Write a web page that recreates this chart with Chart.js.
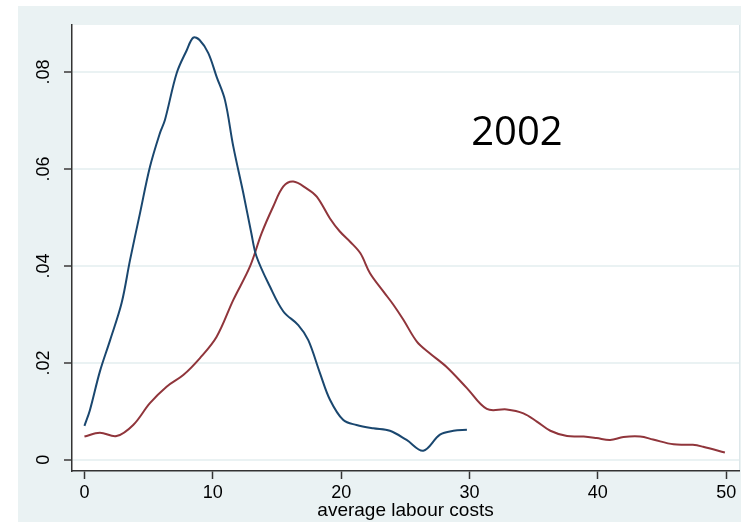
<!DOCTYPE html>
<html>
<head>
<meta charset="utf-8">
<script src="https://cdn.jsdelivr.net/npm/chart.js@4"></script>
<style>
  html, body { margin: 0; padding: 0; background: #fff; }
  #wrap { width: 741px; height: 522px; }
</style>
</head>
<body>
<div id="wrap"><canvas id="kdChart" width="741" height="522"></canvas></div>
<script>
// kernel density of average labour costs, 2002
const blueX = [0, 0.43, 1.2, 2.0, 2.9, 3.55, 4.33, 5.1, 5.88, 6.27, 7.19, 7.97, 8.48, 8.97, 9.65, 10.3, 10.95, 11.6, 12.38, 13.0, 13.4, 14.46, 15.5, 16.66, 17.44, 18.35, 19.13, 20.17, 21.2, 22.5, 23.8, 25.1, 26.4, 27.7, 28.75, 29.8];
const blueY = [.0070, .0103, .0182, .0247, .0324, .0412, .0509, .0604, .0674, .0701, .0798, .0845, .0871, .0866, .0839, .0790, .0742, .0646, .0550, .0468, .0420, .0357, .0306, .0278, .0247, .0179, .0124, .0082, .0072, .0065, .0060, .0041, .0019, .0052, .0060, .0062];

const redX = [0, 1.2, 2.5, 3.8, 5.1, 6.4, 7.7, 9.0, 10.3, 11.6, 12.9, 13.8, 14.7, 15.5, 16.27, 17.3, 18.1, 19.13, 19.9, 20.7, 21.5, 22.25, 23.3, 24.07, 24.85, 25.9, 26.9, 28.2, 29.8, 31.35, 32.9, 34.2, 35.25, 36.3, 37.6, 38.9, 39.9, 40.96, 42.0, 43.3, 44.3, 45.9, 47.4, 48.2, 49.9];
const redY = [.0048, .0056, .0049, .0072, .0117, .0151, .0175, .0210, .0254, .0330, .0399, .0467, .0522, .0564, .0574, .0560, .0543, .0498, .0471, .0450, .0426, .0385, .0347, .0320, .0289, .0244, .0220, .0192, .0148, .0105, .0104, .0096, .0079, .0060, .0049, .0048, .0045, .0041, .0047, .0048, .0042, .0032, .0031, .0027, .0015];

const xTicks = [0, 10, 20, 30, 40, 50];
const yTicks = [0, 0.02, 0.04, 0.06, 0.08];
const yTickLabels = ["0", ".02", ".04", ".06", ".08"];
const yearLabel = "2002";
const xTitle = "average labour costs";

const toPoints = (xs, ys) => xs.map((x, i) => ({ x: x, y: ys[i] }));

Chart.defaults.font.family = "'Liberation Sans', Arial, sans-serif";

const stataBg = {
  id: "stataBg",
  beforeDraw(chart) {
    const { ctx, chartArea: a } = chart;
    ctx.save();
    ctx.fillStyle = "#ffffff";
    ctx.fillRect(0, 0, chart.width, chart.height);
    ctx.fillStyle = "#eaf2f3";
    ctx.fillRect(18, 6, chart.width - 18, chart.height - 6);
    ctx.fillStyle = "#ffffff";
    ctx.fillRect(a.left, a.top, a.right - a.left, a.bottom - a.top);
    ctx.strokeStyle = "#dde7ea";
    ctx.lineWidth = 1;
    ctx.beginPath();
    ctx.moveTo(a.right + 0.5, a.top);
    ctx.lineTo(a.right + 0.5, a.bottom);
    ctx.stroke();
    ctx.restore();
  },
  afterDraw(chart) {
    const { ctx } = chart;
    const xs = chart.scales.x, ys = chart.scales.y;
    ctx.save();
    ctx.fillStyle = "#000";
    // rotated y tick labels
    ctx.font = "18px 'Liberation Sans', Arial, sans-serif";
    ctx.textAlign = "center";
    ctx.textBaseline = "middle";
    yTicks.forEach((v, i) => {
      ctx.save();
      ctx.translate(ys.right - 28, ys.getPixelForValue(v));
      ctx.rotate(-Math.PI / 2);
      ctx.fillText(yTickLabels[i], 0, 0);
      ctx.restore();
    });
    ctx.font = "40px 'Open Sans', sans-serif";
    ctx.textBaseline = "alphabetic";
    ctx.fillText(yearLabel, xs.getPixelForValue(33.7), ys.getPixelForValue(0.065));
    ctx.restore();
  }
};

new Chart(document.getElementById("kdChart"), {
  type: "line",
  data: {
    datasets: [{
      data: toPoints(blueX, blueY),
      borderColor: "#1a476f",
      borderWidth: 2,
      pointRadius: 0,
      tension: 0.35,
      fill: false
    }, {
      data: toPoints(redX, redY),
      borderColor: "#90353b",
      borderWidth: 2,
      pointRadius: 0,
      tension: 0.35,
      fill: false
    }]
  },
  options: {
    responsive: false,
    animation: false,
    devicePixelRatio: 1,
    layout: { padding: { left: 18, top: 25, right: 2, bottom: 0 } },
    plugins: { legend: { display: false }, tooltip: { enabled: false } },
    scales: {
      x: {
        type: "linear",
        min: -0.97,
        max: 51.0,
        afterBuildTicks: s => { s.ticks = xTicks.map(v => ({ value: v })); },
        afterFit: s => { s.height = 51; },
        ticks: { color: "#000", font: { size: 18 }, padding: 3, maxRotation: 0, callback: v => v },
        grid: { drawOnChartArea: false, drawTicks: true, tickLength: 8, tickColor: "#333", tickWidth: 1.5 },
        border: { color: "#333", width: 1.5 },
        title: { display: true, text: xTitle, color: "#000", font: { size: 19 }, padding: { top: 0, bottom: 0 } }
      },
      y: {
        min: -0.0023,
        max: 0.0897,
        afterBuildTicks: s => { s.ticks = yTicks.map(v => ({ value: v })); },
        afterFit: s => { s.width = 54; },
        ticks: { display: false },
        grid: { color: "#eaf2f3", lineWidth: 2, drawTicks: true, tickLength: 8, tickColor: "#666", tickWidth: 2 },
        border: { color: "#333", width: 1.5 }
      }
    }
  },
  plugins: [stataBg]
});
</script>
</body>
</html>
